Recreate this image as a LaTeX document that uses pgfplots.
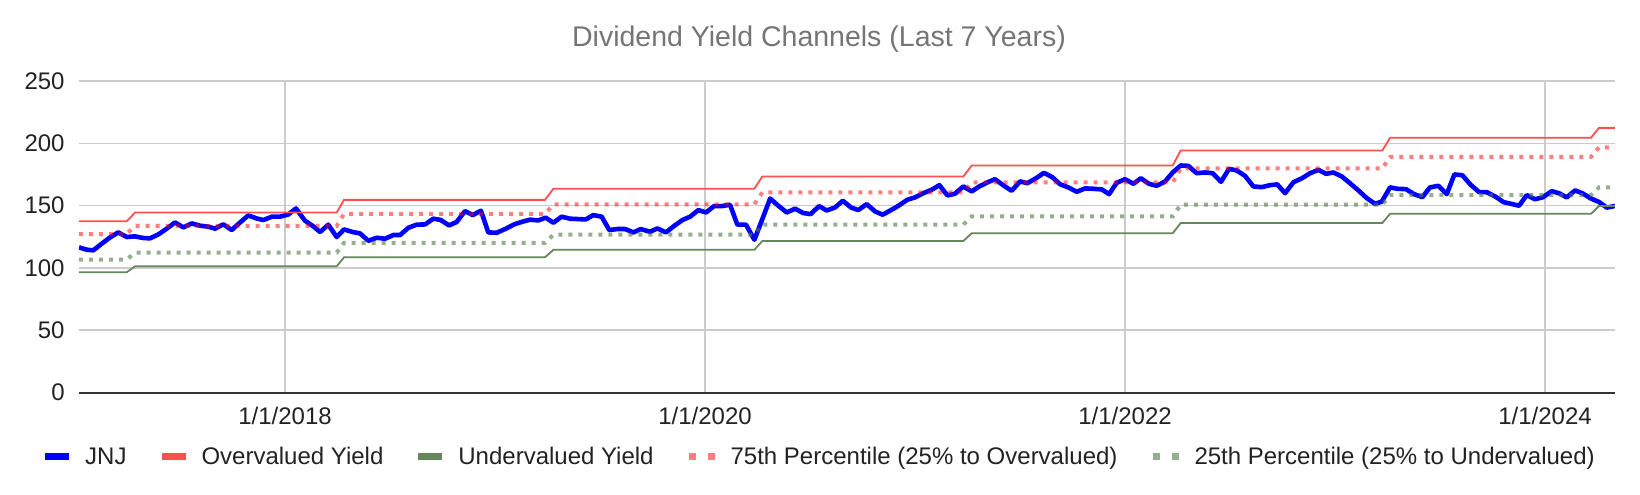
\documentclass[border=0pt]{standalone}
\usepackage{pgfplots}
\pgfplotsset{compat=1.18}
\usepackage{pgfplotstable}
\usepackage{fontspec}
\setmainfont{Liberation Sans}
\definecolor{jnjc}{HTML}{0000FF}
\definecolor{overc}{HTML}{FF4F4F}
\definecolor{underc}{HTML}{65875A}
\definecolor{p25base}{RGB}{80,120,70}
\definecolor{gridc}{HTML}{CCCCCC}
\definecolor{axisc}{HTML}{333333}
\definecolor{textc}{HTML}{222222}
\definecolor{titlec}{HTML}{757575}

\pgfplotstableread{
x y
2017.019 116.5
2017.056 114.6
2017.087 114.1
2017.127 119.4
2017.167 124.5
2017.206 128.5
2017.246 124.8
2017.286 125.3
2017.325 124.0
2017.357 123.7
2017.397 126.9
2017.437 131.5
2017.476 136.5
2017.516 132.5
2017.556 135.7
2017.595 133.9
2017.635 133.1
2017.667 131.5
2017.706 135.0
2017.746 130.4
2017.786 136.5
2017.825 142.1
2017.865 139.7
2017.897 138.4
2017.937 141.1
2017.976 141.1
2018.016 142.9
2018.052 147.7
2018.095 137.9
2018.135 133.3
2018.167 128.8
2018.206 134.7
2018.246 124.8
2018.281 130.9
2018.322 128.8
2018.357 127.7
2018.397 121.8
2018.437 124.2
2018.476 123.4
2018.516 126.4
2018.548 126.4
2018.587 132.2
2018.627 134.7
2018.667 134.9
2018.706 139.5
2018.741 138.5
2018.781 134.1
2018.817 136.8
2018.857 145.6
2018.894 142.4
2018.933 145.9
2018.968 128.5
2019.008 128.2
2019.048 131.2
2019.095 135.2
2019.135 137.3
2019.167 138.7
2019.206 138.1
2019.241 140.3
2019.278 136.3
2019.317 141.1
2019.357 139.5
2019.394 139.2
2019.432 138.9
2019.468 142.4
2019.508 141.1
2019.544 130.4
2019.583 131.2
2019.619 131.2
2019.659 128.5
2019.694 131.2
2019.738 129.0
2019.773 131.7
2019.814 128.5
2019.852 133.6
2019.892 138.4
2019.929 141.1
2019.968 146.4
2020.005 144.5
2020.043 149.6
2020.079 149.6
2020.119 150.7
2020.154 134.7
2020.195 134.7
2020.235 122.6
2020.273 139.2
2020.310 155.7
2020.349 149.9
2020.389 144.5
2020.429 147.5
2020.468 144.0
2020.503 143.2
2020.543 149.6
2020.579 146.1
2020.619 148.5
2020.656 153.9
2020.695 148.5
2020.730 146.4
2020.770 151.2
2020.810 145.3
2020.846 142.7
2020.889 146.7
2020.929 150.7
2020.963 154.7
2021.000 156.6
2021.040 160.0
2021.079 162.7
2021.116 166.4
2021.154 158.2
2021.190 159.5
2021.230 165.4
2021.270 161.4
2021.306 165.4
2021.344 168.6
2021.381 171.2
2021.421 166.2
2021.460 161.9
2021.500 169.4
2021.535 168.0
2021.576 172.0
2021.614 176.3
2021.654 172.8
2021.690 167.2
2021.730 164.6
2021.770 161.1
2021.810 163.8
2021.849 163.5
2021.889 163.0
2021.924 159.2
2021.960 168.3
2022.000 171.2
2022.040 167.5
2022.075 172.0
2022.114 167.5
2022.151 165.9
2022.190 169.3
2022.227 176.6
2022.265 182.2
2022.301 181.9
2022.341 176.0
2022.381 176.6
2022.417 176.0
2022.457 169.1
2022.495 179.5
2022.532 178.2
2022.571 173.9
2022.611 165.4
2022.651 164.8
2022.690 166.4
2022.725 167.0
2022.762 160.0
2022.802 168.8
2022.841 171.8
2022.881 176.0
2022.921 178.7
2022.957 175.5
2022.992 176.6
2023.032 173.4
2023.071 168.0
2023.111 162.2
2023.151 156.0
2023.190 151.5
2023.222 153.1
2023.262 164.6
2023.297 163.5
2023.338 163.2
2023.376 159.2
2023.416 156.8
2023.452 164.6
2023.492 165.9
2023.532 159.2
2023.568 175.0
2023.606 174.4
2023.646 166.7
2023.686 160.8
2023.722 160.8
2023.762 157.4
2023.802 152.8
2023.837 151.5
2023.876 149.9
2023.913 158.4
2023.952 155.1
2023.990 156.7
2024.032 161.6
2024.068 159.8
2024.103 156.6
2024.143 162.2
2024.179 159.8
2024.217 155.8
2024.257 152.9
2024.294 148.4
2024.333 149.7
}\jnj

\pgfplotstableread{
x over under pss pqq
2017.019 137.4 96.5 127.2 106.7
2017.246 137.4 96.5 127.2 106.7
2017.286 144.4 101.3 133.7 112.2
2018.246 144.4 101.3 133.7 112.2
2018.281 154.6 108.5 143.3 120.1
2019.238 154.6 108.5 143.3 120.1
2019.278 163.5 114.5 151.0 126.7
2020.235 163.5 114.5 151.0 126.7
2020.273 173.4 121.6 160.6 134.8
2021.230 173.4 121.6 160.6 134.8
2021.270 182.2 127.8 168.6 141.4
2022.227 182.2 127.8 168.6 141.4
2022.265 194.2 136.0 179.8 150.7
2023.225 194.2 136.0 179.8 150.7
2023.262 204.5 143.4 189.1 158.5
2024.219 204.5 143.4 189.1 158.5
2024.257 212.4 149.7 196.8 164.6
2024.333 212.4 149.7 196.8 164.6
}\chan

\begin{document}
\begin{tikzpicture}
\useasboundingbox (-39.5pt,-50.75pt) rectangle (780.5pt,196.25pt);
\begin{axis}[
  at={(0pt,0pt)}, anchor=south west,
  scale only axis, width=768pt, height=155.75pt,
  xmin=2017.019, xmax=2024.333, ymin=0, ymax=250,
  xtick={2018,2020,2022,2024},
  xticklabels={1/1/2018,1/1/2020,1/1/2022,1/1/2024},
  ytick={0,50,100,150,200,250},
  grid=major,
  major grid style={draw=gridc, line width=0.75pt},
  axis x line*=bottom, axis y line*=left,
  x axis line style={-, draw=axisc, line width=1pt},
  y axis line style={-, draw=none},
  major tick length=0pt,
  tick style={draw=none},
  /pgf/number format/assume math mode=true,
  tick label style={font=\fontsize{12pt}{14pt}\selectfont, text=textc},
  xticklabel style={anchor=base, yshift=-15.75pt},
  yticklabel style={anchor=east, inner sep=0pt, xshift=-7pt},
  legend cell align=left,
  legend style={at={(0.4824,-0.2039)}, anchor=center, draw=none, fill=none,
    legend columns=5, font=\fontsize{12pt}{14pt}\selectfont, text=textc,
    inner sep=0pt,
    nodes={inner sep=0pt, text height=8.6pt, text depth=0pt},
    /tikz/every odd column/.append style={column sep=8pt},
    /tikz/every even column/.append style={column sep=17.5pt}},
]
\addplot[draw=jnjc, line width=2.3pt, line join=round,
  legend image code/.code={\path[fill=jnjc, draw=none] (0pt,-1.75pt) rectangle (12pt,1.75pt);}]
  table[x=x, y=y] {\jnj};
\addlegendentry{JNJ}
\addplot[draw=overc, line width=0.9pt,
  legend image code/.code={\path[fill=overc, draw=none] (0pt,-1.75pt) rectangle (12pt,1.75pt);}]
  table[x=x, y=over] {\chan};
\addlegendentry{Overvalued Yield}
\addplot[draw=underc, line width=0.9pt,
  legend image code/.code={\path[fill=underc, draw=none] (0pt,-1.75pt) rectangle (12pt,1.75pt);}]
  table[x=x, y=under] {\chan};
\addlegendentry{Undervalued Yield}
\addplot[draw=red, draw opacity=0.5, line width=2pt, dash pattern=on 2pt off 3pt,
  legend image code/.code={\path[fill=red, fill opacity=0.5, draw=none] (0pt,-1.75pt) rectangle (3.5pt,1.75pt); \path[fill=red, fill opacity=0.5, draw=none] (9.5pt,-1.75pt) rectangle (13pt,1.75pt);}]
  table[x=x, y=pss] {\chan};
\addlegendentry{75th Percentile (25\% to Overvalued)}
\addplot[draw=p25base, draw opacity=0.6, line width=2pt, dash pattern=on 2pt off 3pt,
  legend image code/.code={\path[fill=p25base, fill opacity=0.6, draw=none] (0pt,-1.75pt) rectangle (3.5pt,1.75pt); \path[fill=p25base, fill opacity=0.6, draw=none] (9.5pt,-1.75pt) rectangle (13pt,1.75pt);}]
  table[x=x, y=pqq] {\chan};
\addlegendentry{25th Percentile (25\% to Undervalued)}
\end{axis}
\node[anchor=base, inner sep=0pt, font=\fontsize{14.25pt}{17pt}\selectfont, text=titlec]
  at (370pt,172.9pt) {Dividend Yield Channels (Last 7 Years)};
\end{tikzpicture}
\end{document}
